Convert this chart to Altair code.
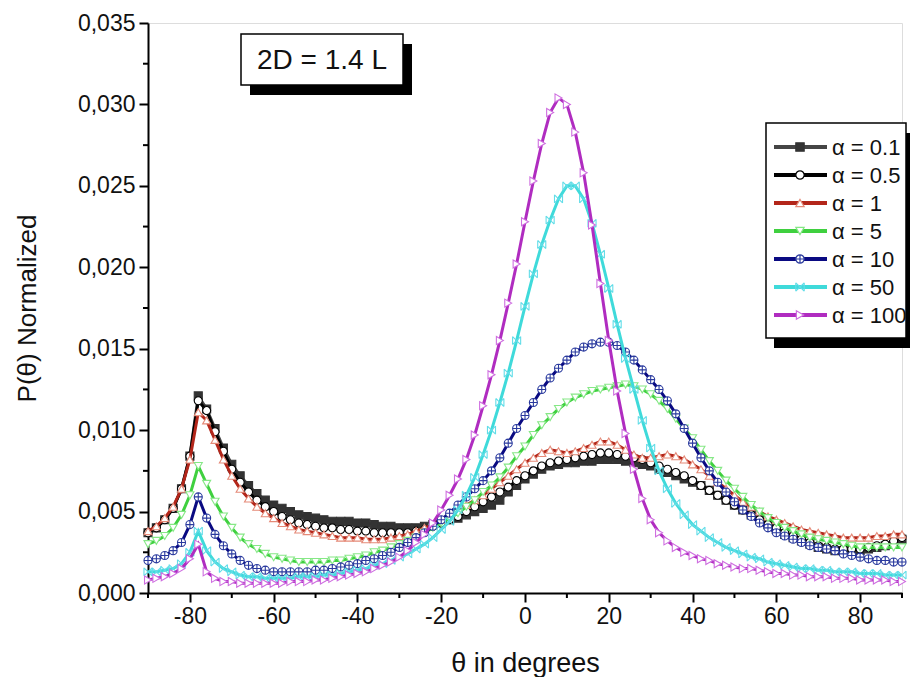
import altair as alt
import pandas as pd

theta = list(range(-90, 91, 2))

p_a01 = [.0037,.0040,.0045,.0052,.0064,.0084,.0121,.0113,.0101,.0089,
         .0079,.0072,.0066,.0061,.0057,.0054,.0052,.0050,.0048,.0047,
         .0046,.0045,.0044,.0044,.0044,.0043,.0043,.0042,.0041,.0041,
         .0040,.0040,.0040,.0041,.0042,.0043,.0045,.0046,.0048,.0050,
         .0052,.0054,.0057,.0062,.0066,.0070,.0073,.0076,.0078,.0079,
         .0080,.0080,.0081,.0081,.0082,.0082,.0082,.0081,.0080,.0079,
         .0078,.0076,.0074,.0072,.0070,.0068,.0066,.0063,.0060,.0057,
         .0054,.0051,.0048,.0045,.0042,.0039,.0036,.0034,.0032,.0030,
         .0028,.0027,.0026,.0026,.0026,.0026,.0027,.0028,.0029,.0031,
         .0033]
p_a05 = [.0037,.0040,.0045,.0052,.0064,.0084,.0118,.0112,.0099,.0087,
         .0076,.0068,.0062,.0057,.0053,.0050,.0047,.0045,.0043,.0042,
         .0041,.0040,.0040,.0039,.0039,.0038,.0038,.0037,.0037,.0037,
         .0037,.0037,.0038,.0039,.0041,.0043,.0045,.0047,.0050,.0053,
         .0056,.0059,.0062,.0065,.0069,.0072,.0075,.0078,.0080,.0081,
         .0082,.0083,.0084,.0085,.0086,.0086,.0085,.0084,.0083,.0082,
         .0080,.0078,.0076,.0074,.0072,.0069,.0066,.0063,.0060,.0057,
         .0054,.0051,.0048,.0045,.0042,.0040,.0037,.0035,.0033,.0031,
         .0029,.0028,.0027,.0027,.0027,.0027,.0028,.0029,.0030,.0032,
         .0034]
p_a1 = [.0038,.0041,.0046,.0053,.0064,.0082,.0111,.0106,.0094,.0082,
        .0072,.0064,.0058,.0053,.0049,.0046,.0043,.0041,.0039,.0038,
        .0037,.0036,.0035,.0034,.0034,.0034,.0033,.0033,.0033,.0034,
        .0035,.0036,.0038,.0040,.0042,.0045,.0048,.0051,.0054,.0057,
        .0060,.0064,.0068,.0072,.0076,.0080,.0083,.0086,.0088,.0087,
        .0086,.0087,.0089,.0091,.0093,.0093,.0091,.0088,.0085,.0083,
        .0083,.0084,.0085,.0084,.0082,.0079,.0076,.0072,.0068,.0064,
        .0060,.0056,.0053,.0050,.0047,.0045,.0043,.0041,.0039,.0038,
        .0037,.0036,.0035,.0034,.0034,.0034,.0034,.0035,.0035,.0036,
        .0036]
p_a5 = [.0030,.0032,.0035,.0040,.0048,.0060,.0078,.0067,.0056,.0047,
        .0040,.0034,.0030,.0027,.0024,.0022,.0021,.0020,.0019,.0019,
        .0019,.0019,.0020,.0020,.0021,.0022,.0023,.0025,.0026,.0028,
        .0030,.0032,.0034,.0037,.0040,.0043,.0046,.0049,.0053,.0057,
        .0062,.0066,.0071,.0077,.0084,.0090,.0097,.0103,.0108,.0113,
        .0117,.0120,.0122,.0124,.0125,.0126,.0127,.0128,.0127,.0125,
        .0122,.0118,.0113,.0107,.0101,.0095,.0088,.0081,.0075,.0069,
        .0064,.0059,.0054,.0050,.0046,.0043,.0040,.0038,.0036,.0034,
        .0033,.0032,.0031,.0030,.0029,.0028,.0028,.0028,.0028,.0028,
        .0028]
p_a10 = [.0020,.0021,.0023,.0026,.0031,.0042,.0059,.0046,.0036,.0029,
         .0024,.0020,.0017,.0015,.0014,.0013,.0013,.0013,.0013,.0013,
         .0014,.0014,.0015,.0016,.0017,.0018,.0020,.0021,.0023,.0025,
         .0028,.0031,.0034,.0037,.0041,.0045,.0049,.0054,.0059,.0064,
         .0069,.0075,.0083,.0092,.0101,.0109,.0117,.0125,.0132,.0138,
         .0143,.0148,.0151,.0153,.0154,.0154,.0152,.0148,.0143,.0137,
         .0131,.0125,.0118,.0110,.0101,.0092,.0083,.0075,.0068,.0062,
         .0056,.0051,.0047,.0043,.0040,.0037,.0035,.0033,.0031,.0029,
         .0028,.0027,.0026,.0024,.0023,.0022,.0021,.0020,.0020,.0019,
         .0019]
p_a50 = [.0013,.0013,.0014,.0015,.0018,.0025,.0038,.0026,.0019,.0015,
         .0013,.0011,.0010,.0010,.0009,.0009,.0009,.0009,.0010,.0010,
         .0010,.0011,.0011,.0012,.0013,.0014,.0015,.0017,.0018,.0020,
         .0022,.0024,.0027,.0030,.0034,.0039,.0044,.0051,.0060,.0071,
         .0085,.0100,.0117,.0135,.0155,.0176,.0196,.0214,.0229,.0242,
         .0250,.0250,.0242,.0227,.0208,.0187,.0165,.0144,.0125,.0106,
         .0089,.0075,.0064,.0055,.0048,.0042,.0038,.0034,.0031,.0028,
         .0026,.0024,.0022,.0021,.0019,.0018,.0017,.0016,.0015,.0015,
         .0014,.0014,.0013,.0013,.0013,.0012,.0012,.0012,.0011,.0011,
         .0011]
p_a100 = [.0008,.0009,.0010,.0012,.0015,.0021,.0030,.0013,.0009,.0007,
          .0007,.0006,.0006,.0006,.0006,.0006,.0006,.0007,.0007,.0007,
          .0008,.0008,.0009,.0010,.0011,.0012,.0013,.0015,.0017,.0019,
          .0022,.0026,.0031,.0036,.0043,.0051,.0060,.0070,.0082,.0097,
          .0115,.0134,.0155,.0178,.0202,.0228,.0253,.0276,.0295,.0304,
          .0300,.0283,.0258,.0226,.0190,.0155,.0124,.0098,.0076,.0058,
          .0045,.0037,.0032,.0028,.0025,.0023,.0021,.0020,.0018,.0017,
          .0016,.0015,.0015,.0014,.0013,.0012,.0012,.0011,.0011,.0010,
          .0010,.0010,.0009,.0009,.0009,.0008,.0008,.0008,.0008,.0007,
          .0007]

series_names = ["α = 0.1", "α = 0.5", "α = 1", "α = 5", "α = 10", "α = 50", "α = 100"]
series_values = [p_a01, p_a05, p_a1, p_a5, p_a10, p_a50, p_a100]
line_colors = ["#454545", "#000000", "#b3261a", "#3fd03f", "#0a0a82", "#3fdada", "#b02cc0"]
marker_strokes = ["#333333", "#000000", "#e58a78", "#86e886", "#2a3a9e", "#62dde8", "#cf6fe0"]
marker_fills = ["#333333", "#ffffff", "#ffffff", "#ffffff", "#ffffff", "#ffffff", "#ffffff"]
circle_plus = "M-1,0A1,1 0 1,0 1,0A1,1 0 1,0 -1,0M-1,0L1,0M0,-1L0,1"
x_cross = "M-1,-1L1,1M1,-1L-1,1M-1,-1L-1,1M1,-1L1,1"
marker_shapes = ["square", "circle", "triangle-up", "triangle-down", circle_plus, x_cross, "triangle-right"]

x_major = [-80, -60, -40, -20, 0, 20, 40, 60, 80]
x_minor = [-90, -70, -50, -30, -10, 10, 30, 50, 70, 90]
y_major = [0.0, 0.005, 0.010, 0.015, 0.020, 0.025, 0.030, 0.035]
y_minor = [0.0025, 0.0075, 0.0125, 0.0175, 0.0225, 0.0275, 0.0325]

annotation = "2D = 1.4 L"
x_title = "θ in degrees"
y_title = "P(θ) Normalized"

W, H = 754, 570
FONT = "Liberation Sans"

x_scale = alt.Scale(domain=[-90, 90], nice=False, zero=False)
y_scale = alt.Scale(domain=[0, 0.035], nice=False)

x_axis = alt.Axis(values=x_major, title=x_title, labelFontSize=23, titleFontSize=27,
                  labelFont=FONT, titleFont=FONT, tickSize=9, tickWidth=2, domainWidth=2,
                  domainColor="black", tickColor="black", labelColor="#111", titleColor="#111",
                  labelPadding=3, grid=False, labelFontWeight="normal",
                  labelExpr="'' + datum.value",
                  titleFontWeight="normal", titleY=70, titleBaseline="middle")
y_axis = alt.Axis(values=y_major, title=y_title, labelFontSize=23, titleFontSize=26,
                  labelFont=FONT, titleFont=FONT, tickSize=9, tickWidth=2, domainWidth=2,
                  domainColor="black", tickColor="black", labelColor="#111", titleColor="#111",
                  labelPadding=4, grid=False,
                  labelExpr="replace(format(datum.value, '.3f'), '.', ',')",
                  titleFontWeight="normal", titleX=-121, titleBaseline="middle")

X = alt.X("theta:Q", scale=x_scale, axis=x_axis)
Y = alt.Y("p:Q", scale=y_scale, axis=y_axis)

layers = []

# minor ticks
xm = pd.DataFrame({"theta": x_minor})
layers.append(alt.Chart(xm).mark_rule(color="black", strokeWidth=2).encode(
    x=X, y=alt.value(H), y2=alt.value(H + 5)))
ym = pd.DataFrame({"p": y_minor})
layers.append(alt.Chart(ym).mark_rule(color="black", strokeWidth=2).encode(
    y=Y, x=alt.value(-5), x2=alt.value(0)))

for i, name in enumerate(series_names):
    d = pd.DataFrame({"theta": theta, "p": series_values[i], "series": name})
    base = alt.Chart(d).encode(x=X, y=Y)
    layers.append(base.mark_line(color=line_colors[i], strokeWidth=3))
    layers.append(base.mark_point(shape=marker_shapes[i], size=65, filled=True,
                                  fill=marker_fills[i], stroke=marker_strokes[i],
                                  strokeWidth=1.1, opacity=1))

# annotation box with shadow
box = pd.DataFrame({"label": [annotation]})
bx0, bx1, by0, by1 = 93, 255, 11, 62
layers.append(alt.Chart(box).mark_rect(color="black").encode(
    x=alt.value(bx0 + 9), x2=alt.value(bx1 + 9), y=alt.value(by0 + 10), y2=alt.value(by1 + 10)))
layers.append(alt.Chart(box).mark_rect(fill="white", stroke="black", strokeWidth=1.5).encode(
    x=alt.value(bx0), x2=alt.value(bx1), y=alt.value(by0), y2=alt.value(by1)))
layers.append(alt.Chart(box).mark_text(font=FONT, fontSize=28, color="#111", align="center",
                                       baseline="middle").encode(
    x=alt.value((bx0 + bx1) / 2), y=alt.value((by0 + by1) / 2 + 1), text="label:N"))

# legend box with shadow
lx0, lx1, ly0, ly1 = 618, 758, 100, 315
lg = pd.DataFrame({"series": series_names})
layers.append(alt.Chart(lg.head(1)).mark_rect(color="black").encode(
    x=alt.value(lx0 + 8), x2=alt.value(lx1 + 8), y=alt.value(ly0 + 10), y2=alt.value(ly1 + 10)))
layers.append(alt.Chart(lg.head(1)).mark_rect(fill="white", stroke="black", strokeWidth=1.5).encode(
    x=alt.value(lx0), x2=alt.value(lx1), y=alt.value(ly0), y2=alt.value(ly1)))
for i, name in enumerate(series_names):
    row = lg.iloc[[i]]
    yy = 124 + 28 * i
    layers.append(alt.Chart(row).mark_rule(color=line_colors[i], strokeWidth=4).encode(
        x=alt.value(626), x2=alt.value(679), y=alt.value(yy)))
    layers.append(alt.Chart(row).mark_point(shape=marker_shapes[i], size=70, filled=True,
                                            fill=marker_fills[i], stroke=marker_strokes[i],
                                            strokeWidth=1.2, opacity=1).encode(
        x=alt.value(652), y=alt.value(yy)))
    layers.append(alt.Chart(row).mark_text(font=FONT, fontSize=22, color="#111", align="left",
                                           baseline="middle").encode(
        x=alt.value(684), y=alt.value(yy + 1), text="series:N"))

chart = alt.layer(*layers).properties(
    width=W, height=H,
    autosize=alt.AutoSizeParams(type="none"),
    padding={"left": 140, "top": 15, "right": 8, "bottom": 84},
).configure_view(stroke=None).configure(background="white")

chart.save("out.html", embed_options={"renderer": "svg", "actions": False})
